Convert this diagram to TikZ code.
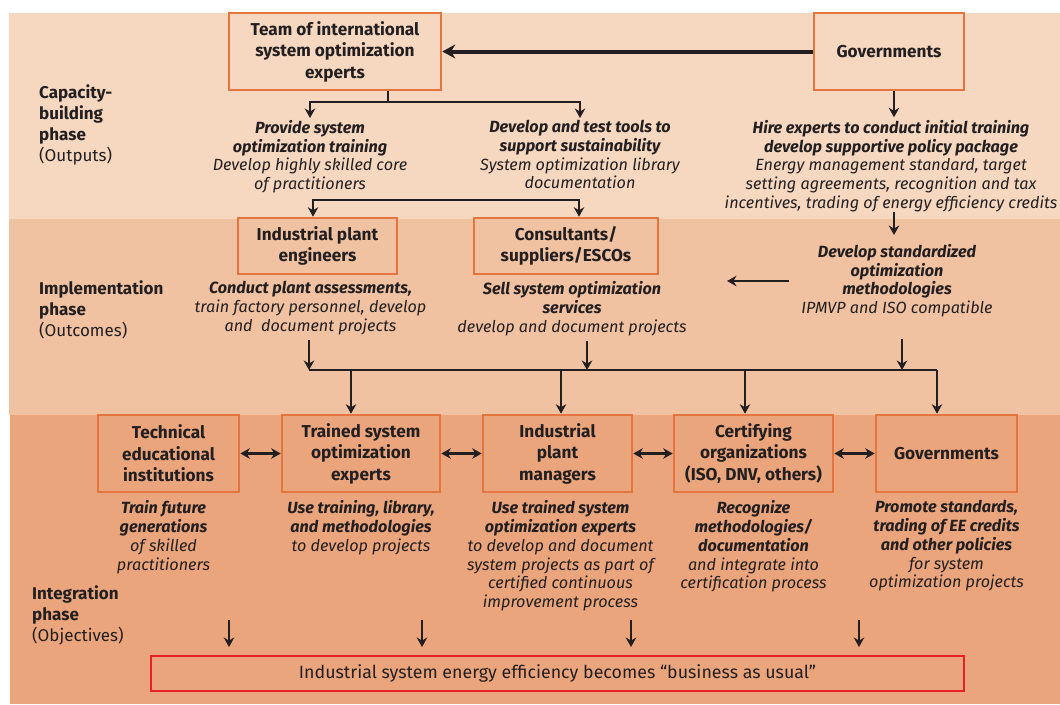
\documentclass[tikz,border=0pt]{standalone}
\usepackage{fontspec}
\setmainfont{Fira Sans}
\usetikzlibrary{arrows.meta,positioning}
\definecolor{bandtop}{RGB}{246,215,192}
\definecolor{bandmid}{RGB}{241,194,162}
\definecolor{bandlow}{RGB}{234,165,125}
\definecolor{boxor}{RGB}{226,118,62}
\definecolor{goalred}{RGB}{232,32,40}
\definecolor{inkgray}{RGB}{35,31,32}

\begin{document}
\begin{tikzpicture}[x=1pt,y=-1pt,
      line/.style={draw=inkgray,line width=2.7pt},
      arr/.style={-{Stealth[length=9.5pt,width=10.5pt]},line},
      arrboth/.style={{Stealth[length=9.5pt,width=10.5pt]}-{Stealth[length=9.5pt,width=10.5pt]},line},
      bigarr/.style={-{Stealth[length=13pt,width=14pt]},draw=inkgray,line width=4pt},
      box/.style={draw=boxor,line width=2.6pt,align=center,inner sep=0pt,text=inkgray,
                  font=\fontsize{17.2}{21.5}\selectfont\bfseries},
      desc/.style={align=center,inner sep=0pt,text=inkgray,
                   font=\fontsize{16.2}{18.8}\selectfont\itshape},
      phase/.style={anchor=north west,align=left,inner sep=0pt,text=inkgray,
                    font=\fontsize{17}{21}\selectfont},
      goalbox/.style={draw=goalred,line width=2.6pt,inner sep=0pt,text=inkgray,
                      minimum width=813pt,minimum height=35pt,font=\fontsize{17.8}{19}\selectfont}
    ]
    \useasboundingbox (0,0) rectangle (1060,704);
    % phase bands
    \fill[bandtop] (9,13) rectangle (1060,219);
    \fill[bandmid] (9,219) rectangle (1060,415);
    \fill[bandlow] (10,415) rectangle (1060,704);

    % phase labels
    \node[phase] (capph) at (39,85) {\textbf{Capacity-}\\\textbf{building}\\\textbf{phase}\\(Outputs)};
    \node[phase] (impph) at (39,281) {\textbf{Implementation}\\\textbf{phase}\\(Outcomes)};
    \node[phase] (intph) at (32,586) {\textbf{Integration}\\\textbf{phase}\\(Objectives)};

    % capacity-building
    \node[box,minimum width=212pt,minimum height=77pt] (team) at (335,51.5)
          {Team of international\\system optimization\\experts};
    \node[box,minimum width=150pt,minimum height=77pt] (govtop) at (889,51.5) {Governments};
    \node[desc,anchor=north] (traintxt) at (310,120)
          {\textbf{Provide system}\\\textbf{optimization training}\\Develop highly skilled core\\of practitioners};
    \node[desc,anchor=north] (tooltxt) at (580,120)
          {\textbf{Develop and test tools to}\\\textbf{support sustainability}\\System optimization library\\documentation};
    \node[desc,anchor=north] (hiretxt) at (891,120)
          {\textbf{Hire experts to conduct initial training}\\\textbf{develop supportive policy package}\\Energy management standard, target\\setting agreements, recognition and tax\\incentives, trading of energy efficiency credits};

    % implementation
    \node[box,minimum width=159pt,minimum height=56pt] (eng) at (317.5,246) {Industrial plant\\engineers};
    \node[box,minimum width=184pt,minimum height=56pt] (cons) at (566,246) {Consultants/\\suppliers/ESCOs};
    \node[desc,below=6pt of eng,xshift=-7pt] (engtxt)
          {\textbf{Conduct plant assessments,}\\train factory personnel, develop\\and\ \ document projects};
    \node[desc,below=6pt of cons,xshift=6pt] (constxt)
          {\textbf{Sell system optimization}\\\textbf{services}\\develop and document projects};
    \node[desc,anchor=north] (methtxt) at (897,244)
          {\textbf{Develop standardized}\\\textbf{optimization}\\\textbf{methodologies}\\IPMVP and ISO compatible};

    % integration
    \node[box,minimum width=141pt,minimum height=77pt] (tech) at (168.5,453.5) {Technical\\educational\\institutions};
    \node[box,minimum width=158pt,minimum height=77pt] (trained) at (361,453.5) {Trained system\\optimization\\experts};
    \node[box,minimum width=149pt,minimum height=77pt] (mgrs) at (557.5,453.5) {Industrial\\plant\\managers};
    \node[box,minimum width=159pt,minimum height=77pt] (cert) at (753.5,453.5) {Certifying\\organizations\\(ISO, DNV, others)};
    \node[box,minimum width=141pt,minimum height=77pt] (govlow) at (946.5,453.5) {Governments};

    \node[desc,below=7pt of tech,xshift=-5pt] (techtxt)
          {\textbf{Train future}\\\textbf{generations}\\of skilled\\practitioners};
    \node[desc,below=7pt of trained] (trainedtxt)
          {\textbf{Use training, library,}\\\textbf{and methodologies}\\to develop projects};
    \node[desc,below=7pt of mgrs,xshift=3pt] (mgrstxt)
          {\textbf{Use trained system}\\\textbf{optimization experts}\\to develop and document\\system projects as part of\\certified continuous\\improvement process};
    \node[desc,below=7pt of cert] (certtxt)
          {\textbf{Recognize}\\\textbf{methodologies/}\\\textbf{documentation}\\and integrate into\\certification process};
    \node[desc,below=7pt of govlow] (govlowtxt)
          {\textbf{Promote standards,}\\\textbf{trading of EE credits}\\\textbf{and other policies}\\for system\\optimization projects};

    \node[goalbox] (goal) at (557.5,673.5)
          {Industrial system energy efficiency becomes “business as usual”};

    % connectors, capacity-building
    \draw[bigarr] (govtop) -- (team);
    \coordinate (teamsplit) at (388,102);
    \draw[line] (team.south -| teamsplit) -- (teamsplit);
    \draw[arr,shorten >=2pt] (teamsplit) -| (traintxt.north);
    \draw[arr,shorten >=2pt] (teamsplit) -| (tooltxt.north);
    \draw[arr] ([xshift=5pt]govtop.south) -- ++(0,26);

    % connectors, implementation
    \coordinate (brL) at (313,200);
    \coordinate (brR) at (579,200);
    \draw[arrboth] (brL |- eng.north) -- (brL) -- (brR) -- (brR |- cons.north);
    \coordinate (govx) at (894,0);
    \draw[arr,shorten >=9pt] (hiretxt.south -| govx) -- (methtxt.north -| govx);
    \coordinate (methin) at (789,281);
    \draw[arr] (methin) -- ++(-62,0);

    \coordinate (busL) at (309,370);
    \coordinate (tapB) at (587,370);
    \coordinate (tapC) at (902,370);
    \coordinate (busR) at (937,370);
    \draw[line] (busL) -- (busR);
    \draw[arr,shorten <=5pt] (busL |- engtxt.south) -- (busL);
    \draw[arr,shorten <=5pt] (tapB |- constxt.south) -- (tapB);
    \draw[arr,shorten <=22pt] (tapC |- methtxt.south) -- (tapC);

    \coordinate (dropA) at (351,370);
    \coordinate (dropB) at (561,370);
    \coordinate (dropC) at (745,370);
    \draw[arr] (dropA) -- (dropA |- trained.north);
    \draw[arr] (dropB) -- (dropB |- mgrs.north);
    \draw[arr] (dropC) -- (dropC |- cert.north);
    \draw[arr] (busR) -- (busR |- govlow.north);

    % connectors, integration
    \foreach \a/\b in {tech/trained,trained/mgrs,mgrs/cert,cert/govlow}
      \draw[arrboth] (\a) -- (\b);
    \foreach \x in {229,422,631,859}
      \draw[arr] (\x,620) -- (\x,647);
  \end{tikzpicture}
\end{document}
